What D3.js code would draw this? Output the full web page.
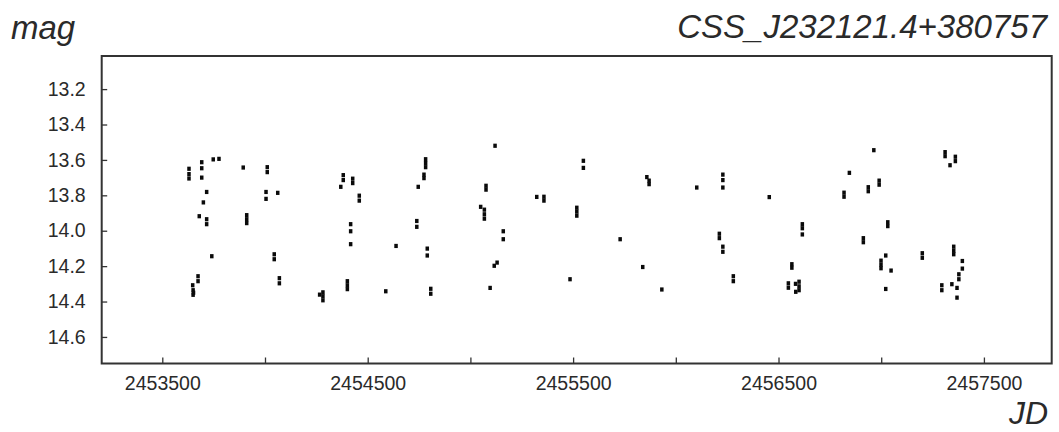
<!DOCTYPE html>
<html>
<head>
<meta charset="utf-8">
<script src="https://cdn.jsdelivr.net/npm/d3@7"></script>
<style>
  body { margin: 0; background: #fff; }
  svg { display: block; font-family: "Liberation Sans", Arial, sans-serif; }
</style>
</head>
<body>
<svg id="chart"></svg>
<script>
const starName = "CSS_J232121.4+380757";

const observations = [
  [2453630, 13.65], [2453630, 13.68], [2453630, 13.705],
  [2453692, 13.613], [2453692, 13.647], [2453692, 13.70],
  [2453748, 13.597], [2453776, 13.594],
  [2453716, 13.781], [2453700, 13.84], [2453680, 13.918], [2453716, 13.935], [2453716, 13.963],
  [2453741, 14.144],
  [2453674, 14.257], [2453674, 14.285],
  [2453648, 14.308],
  [2453650, 14.336], [2453652, 14.35], [2453650, 14.362],

  [2453894, 13.643],
  [2453911, 13.912], [2453911, 13.935], [2453911, 13.957],
  [2454011, 13.641], [2454011, 13.669],
  [2454005, 13.781], [2454005, 13.82], [2454062, 13.786],
  [2454045, 14.133], [2454045, 14.161],
  [2454070, 14.268], [2454070, 14.297],

  [2454266, 14.361], [2454282, 14.348], [2454282, 14.37], [2454282, 14.393],
  [2454401, 14.285], [2454401, 14.308], [2454401, 14.33],
  [2454381, 13.686], [2454381, 13.714],
  [2454369, 13.752],
  [2454427, 13.706], [2454427, 13.731],
  [2454459, 13.802], [2454459, 13.83],
  [2454417, 13.963], [2454417, 14.003], [2454417, 14.076],
  [2454588, 14.342], [2454638, 14.086],
  [2454782, 13.596], [2454782, 13.618], [2454782, 13.641],
  [2454774, 13.683], [2454774, 13.703],
  [2454746, 13.752],
  [2454739, 13.945], [2454739, 13.978],
  [2454790, 14.101], [2454790, 14.14],
  [2454807, 14.328], [2454807, 14.356],

  [2455120, 13.52],
  [2455076, 13.746], [2455076, 13.768],
  [2455050, 13.865],
  [2455068, 13.881], [2455068, 13.907], [2455068, 13.932],
  [2455160, 14.003], [2455160, 14.048],
  [2455116, 14.198], [2455130, 14.18],
  [2455096, 14.323],
  [2455323, 13.809], [2455358, 13.808], [2455358, 13.83],
  [2455550, 13.605], [2455550, 13.645],
  [2455518, 13.87], [2455518, 13.892], [2455518, 13.915],
  [2455485, 14.274],
  [2455729, 14.048],
  [2455859, 13.697], [2455870, 13.717], [2455870, 13.737],
  [2455839, 14.205],
  [2455932, 14.332],
  [2456102, 13.756],
  [2456229, 13.683], [2456229, 13.714], [2456229, 13.756],
  [2456212, 14.017], [2456212, 14.042],
  [2456229, 14.09], [2456229, 14.119],
  [2456280, 14.257], [2456280, 14.285],

  [2456455, 13.81],
  [2456616, 13.963], [2456616, 13.986], [2456616, 14.021],
  [2456565, 14.189], [2456565, 14.209],
  [2456548, 14.297], [2456548, 14.322],
  [2456583, 14.30], [2456600, 14.288], [2456600, 14.314], [2456600, 14.336], [2456584, 14.345],
  [2456819, 13.785], [2456819, 13.808],
  [2456845, 13.673],
  [2456937, 13.754], [2456937, 13.777],
  [2456964, 13.545],
  [2456990, 13.717], [2456990, 13.74],
  [2457032, 13.952], [2457032, 13.974],
  [2456913, 14.042], [2456913, 14.065],
  [2457022, 14.14],
  [2456999, 14.169], [2456999, 14.192], [2456999, 14.212],
  [2457048, 14.225],
  [2457022, 14.329],
  [2457200, 14.127], [2457200, 14.153],
  [2457295, 14.308], [2457295, 14.336],
  [2457311, 13.556], [2457311, 13.579],
  [2457361, 13.582], [2457361, 13.607],
  [2457335, 13.63],
  [2457353, 14.09], [2457353, 14.113], [2457353, 14.133],
  [2457395, 14.171], [2457395, 14.214],
  [2457378, 14.246], [2457378, 14.274],
  [2457344, 14.302],
  [2457369, 14.323], [2457369, 14.378],
];

const xTicks = [2453500, 2454000, 2454500, 2455000, 2455500, 2456000, 2456500, 2457000, 2457500];
const xTickLabels = [2453500, 2454500, 2455500, 2456500, 2457500];
const yTicks = [13.2, 13.4, 13.6, 13.8, 14.0, 14.2, 14.4, 14.6];

const width = 1059;
const height = 432;
const plot = { left: 101.7, right: 1051.7, top: 56, bottom: 363.5 };

const svg = d3.select("#chart")
  .attr("width", width)
  .attr("height", height);

const x = d3.scaleLinear()
  .domain([2453205, 2457830])
  .range([plot.left, plot.right]);

// magnitudes grow downward
const y = d3.scaleLinear()
  .domain([13.013, 14.75])
  .range([plot.top, plot.bottom]);

const frameColor = "#333";
const textColor = "#2a2a2a";

// points
const markW = 3.5;
const markH = 4.2;
svg.append("g")
  .selectAll("rect")
  .data(observations)
  .join("rect")
  .attr("x", (d) => x(d[0]) - markW / 2)
  .attr("y", (d) => y(d[1]) - markH / 2)
  .attr("width", markW)
  .attr("height", markH)
  .attr("fill", "#0a0a0a");

// y axis ticks point inward
const yAxis = d3.axisLeft(y)
  .tickValues(yTicks)
  .tickFormat(d3.format(".1f"))
  .tickSizeInner(-5.5)
  .tickSizeOuter(0)
  .tickPadding(16);

const yG = svg.append("g")
  .attr("transform", `translate(${plot.left},0)`)
  .call(yAxis);

const xAxis = d3.axisBottom(x)
  .tickValues(xTicks)
  .tickFormat((d) => xTickLabels.includes(d) ? d3.format("d")(d) : "")
  .tickSizeInner(-6)
  .tickSizeOuter(0)
  .tickPadding(13);

const xG = svg.append("g")
  .attr("transform", `translate(0,${plot.bottom})`)
  .call(xAxis);

[xG, yG].forEach((g) => {
  g.select(".domain").remove();
  g.selectAll(".tick line").attr("stroke", frameColor).attr("stroke-width", 1.3);
  g.selectAll(".tick text")
    .attr("fill", textColor)
    .attr("font-size", 19.5)
    .attr("font-family", "'Liberation Sans', Arial, sans-serif");
});

// frame
svg.append("rect")
  .attr("x", plot.left)
  .attr("y", plot.top)
  .attr("width", plot.right - plot.left)
  .attr("height", plot.bottom - plot.top)
  .attr("fill", "none")
  .attr("stroke", frameColor)
  .attr("stroke-width", 2);

// labels
svg.append("text")
  .attr("x", 11)
  .attr("y", 39)
  .attr("font-size", 33)
  .attr("font-style", "italic")
  .attr("fill", textColor)
  .text("mag");

svg.append("text")
  .attr("x", 1047)
  .attr("y", 38)
  .attr("text-anchor", "end")
  .attr("font-size", 33)
  .attr("font-style", "italic")
  .attr("fill", textColor)
  .text(starName);

svg.append("text")
  .attr("x", 1048)
  .attr("y", 424)
  .attr("text-anchor", "end")
  .attr("font-size", 32)
  .attr("font-style", "italic")
  .attr("fill", textColor)
  .text("JD");
</script>
</body>
</html>
